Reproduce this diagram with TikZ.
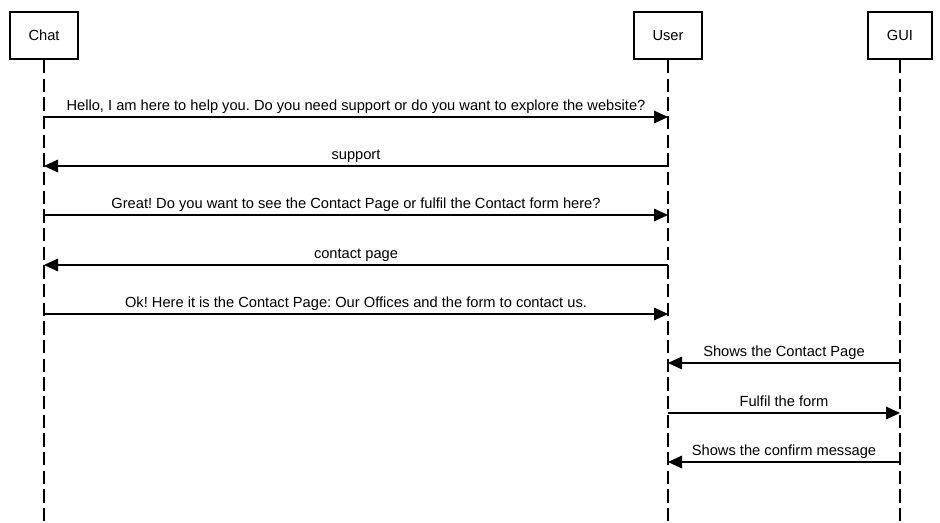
\documentclass[tikz,border=0pt]{standalone}
\usepackage{fontspec}
\setmainfont{Liberation Sans}
\usetikzlibrary{arrows.meta}

\begin{document}
\frenchspacing
\begin{tikzpicture}[x=0.75pt,y=-0.75pt,
        font=\fontsize{11}{13}\selectfont,
        actor/.style={draw,line width=1.5pt,minimum height=35.25pt,inner sep=0pt},
        lifeline/.style={line width=0.8pt,dash pattern=on 10pt off 4pt},
        msg/.style={line width=0.8pt,-{Triangle[length=10.5pt,width=9.5pt]}},
        lbl/.style={anchor=base,inner sep=0pt,yshift=4.5pt}]
        \useasboundingbox (0,0) rectangle (940,523);
        % actors
        \node[actor,minimum width=51pt] (chat) at (44,35.5) {Chat};
        \node[actor,minimum width=51pt] (user) at (668,35.5) {User};
        \node[actor,minimum width=48pt] (gui) at (900,35.5) {GUI};
        % lifelines
        \coordinate (chatend) at (44,523);
        \coordinate (userend) at (668,523);
        \coordinate (guiend) at (900,523);
        \draw[lifeline] (chat.south) -- (chatend);
        \draw[lifeline] (user.south) -- (userend);
        \draw[lifeline] (gui.south) -- (guiend);
        % message rows
        \foreach \row/\y in {1/117,2/166,3/215,4/265,5/314,6/363,7/413,8/462} {
            \coordinate (c\row) at (44,\y);
            \coordinate (u\row) at (668,\y);
            \coordinate (g\row) at (900,\y);
        }
        % chat and user
        \draw[msg] (c1) -- node[lbl] {Hello, I am here to help you. Do you need support or do you want to explore the website?} (u1);
        \draw[msg] (u2) -- node[lbl] {support} (c2);
        \draw[msg] (c3) -- node[lbl] {Great! Do you want to see the Contact Page or fulfil the Contact form here?} (u3);
        \draw[msg] (u4) -- node[lbl] {contact page} (c4);
        \draw[msg] (c5) -- node[lbl] {Ok! Here it is the Contact Page: Our Offices and the form to contact us.} (u5);
        % user and gui
        \draw[msg] (g6) -- node[lbl] {Shows the Contact Page} (u6);
        \draw[msg] (u7) -- node[lbl] {Fulfil the form} (g7);
        \draw[msg] (g8) -- node[lbl] {Shows the confirm message} (u8);
    \end{tikzpicture}
\end{document}
